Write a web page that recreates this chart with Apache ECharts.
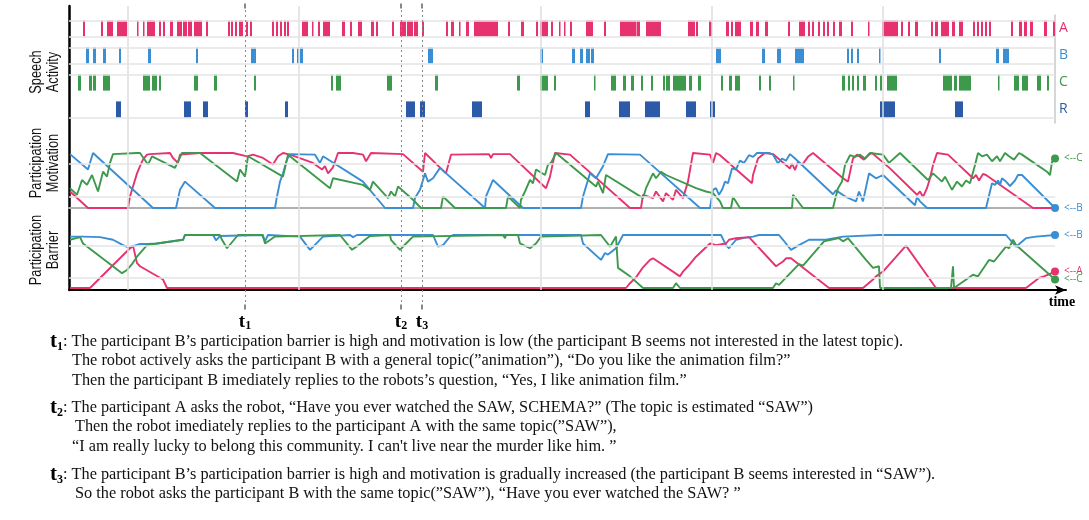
<!DOCTYPE html>
<html><head><meta charset="utf-8">
<script src="https://cdn.jsdelivr.net/npm/echarts@6/dist/echarts.min.js"></script>
<style>html,body{margin:0;padding:0;background:#fff}#c{width:1089px;height:520px}</style>
</head><body><div id="c"></div>
<script>
// ---- data (time units along the session, 0..986) ----
const timeMax = 986;
const speechRows = ['R', 'C', 'B', 'A'];
const speechA = [[14,16],[32,34],[38,44],[48,58],[68,69.5],[74,75.5],[78,86],[90,92],[94,96],[101,104],[108,113],[114,118],[119,123],[125,133],[137,139],[159,161],[162,164],[166,168],[170,174],[177,179],[181,183],[203,205],[207,209],[211,213],[215,217],[218,220],[233,239],[243,244],[249,251],[254,261],[273,276],[281,283],[289,293],[302,305],[307,309],[323,325],[331,337],[338,344],[345,349],[353,355],[377,379],[382,385],[390,391],[397,400],[405,429],[439,441],[452,455],[467,469],[471,479],[482,484],[490,491],[495,496],[501,503],[517,524],[535,537],[551,567],[567.5,571],[577,592],[619,626],[627,629],[640,643],[657,660],[662,664],[666,672],[681,684],[687,690],[696,699],[719,721],[730,736],[739,741],[743,745],[749,751],[754,756],[758,760],[764,766],[770,773],[782,784],[799,800],[813,829],[832,834],[839,841],[846,849],[862,864],[866,869],[872,880],[883,886],[890,894],[904,906],[908,910],[912,914],[916,918],[920,922],[942,944],[950,953],[955,958],[961,964],[975,978],[984,986]];
const speechB = [[17,20],[24,27],[34,37],[50,52],[79,82],[127,129],[182,187],[223,225],[228,230],[231,234],[359,364],[471,474],[503,506],[511,514],[517,521],[522,525],[647,652],[693,696],[708,712],[726,735],[778,780],[782,784],[788,790],[810,811],[870,872],[927,930],[934,940]];
const speechC = [[9,12],[20,23],[24,27],[34,41],[74,81],[83,88],[90,92],[125,129],[145,148],[185,187],[262,264],[267,272],[318,323],[366,369],[448,451],[471,479],[485,487],[525,526],[542,547],[554,557],[562,565],[572,574],[582,584],[594,596],[597,601],[604,617],[620,623],[629,632],[652,654],[660,663],[666,671],[690,692],[700,702],[724,725],[773,776],[779,781],[783,785],[788,790],[794,797],[806,808],[811,813],[818,828],[874,883],[885,888],[890,902],[929,930],[945,950],[953,959],[968,972],[978,980]];
const speechR = [[47,52],[115,122],[134,139],[176,179],[216,219],[337,346],[351,356],[403,413],[516,521],[550,561],[576,591],[617,627],[641,646],[811,826],[886,894]];

const motivA = [[1,.30],[19,0],[59,0],[61,.21],[64,.39],[68,.63],[71,.76],[74,.88],[78,.97],[81,.98],[101,1],[104,.91],[109,.82],[111,.97],[131,1],[164,1],[178,.94],[184,.97],[194,.91],[204,.79],[209,.94],[214,1],[221,.97],[244,.82],[253,.70],[256,.76],[259,.63],[264,.74],[269,1],[284,1],[294,.97],[297,.85],[302,1],[334,.98],[354,.66],[356,1],[377,.63],[382,.97],[420,.98],[422,.91],[424,.98],[441,.98],[477,.36],[481,.57],[486,1],[501,.97],[561,0],[572,0],[574,.24],[584,.18],[587,.30],[594,.12],[597,.27],[604,.15],[607,.33],[614,.18],[619,.48],[624,1],[641,.97],[644,.82],[647,1],[651,.96],[683,.45],[684,.6],[689,.9],[693,.96],[696,1],[704,.98],[721,.72],[723,.81],[726,.69],[729,.84],[733,.78],[739,.93],[744,1],[774,.54],[779,.48],[784,.9],[788,.97],[795,.88],[800,.97],[803,1],[821,.72],[848,.24],[851,.3],[854,.2],[858,.36],[861,.54],[864,.78],[868,1],[879,.97],[904,.54],[907,.6],[910,.5],[914,.62],[917,.6],[964,0],[986,0]];
const motivB = [[1,.98],[19,.70],[24,1],[84,0],[107,0],[111,.33],[116,.48],[146,0],[206,0],[208,.21],[211,.48],[214,.63],[218,.88],[221,.98],[246,.97],[251,.82],[254,.94],[294,.48],[316,0],[344,0],[346,.18],[351,.33],[356,.63],[359,.48],[364,.54],[371,.73],[372,.73],[416,0],[417,.21],[424,.51],[454,0],[512,0],[514,.21],[521,.63],[527,.54],[534,.76],[539,.98],[571,.97],[631,0],[641,0],[644,.33],[647,.36],[650,.24],[653,.33],[656,.48],[659,.45],[663,.72],[667,.7],[671,.86],[675,.82],[680,.96],[684,.93],[688,1],[700,1],[704,.97],[709,.81],[713,.9],[717,.86],[721,.98],[726,.9],[764,.25],[767,.32],[777,.2],[787,.12],[790,.3],[794,.12],[800,.63],[807,.54],[814,.6],[846,.05],[848,.2],[851,.12],[858,0],[917,0],[919,.15],[923,.45],[926,.42],[929,.5],[931,.42],[933,.54],[937,.48],[941,.4],[946,.5],[949,.6],[953,.6],[986,0]];
const motivC = [[1,.36],[8,.24],[13,.51],[18,.42],[23,.60],[29,.30],[34,.66],[38,.57],[41,.82],[44,.98],[68,1],[71,1],[79,.79],[83,.94],[106,.73],[113,1],[131,1],[168,.48],[171,.70],[176,.57],[179,.94],[214,.57],[219,.97],[261,.36],[264,.54],[294,.42],[301,.33],[304,.48],[319,.18],[322,.30],[326,.21],[329,.39],[344,.15],[352,0],[372,0],[374,.21],[386,0],[437,0],[439,.21],[451,0],[452,.15],[456,.30],[461,.51],[464,.45],[467,.70],[476,.60],[479,.79],[482,.82],[487,1],[527,.39],[529,.48],[534,.27],[537,.60],[574,.18],[577,.36],[584,.63],[587,.54],[592,.66],[597,.6],[627,.36],[637,.30],[644,.27],[651,.12],[654,0],[662,0],[664,.2],[671,0],[723,0],[724,.24],[734,0],[764,0],[766,.15],[769,.36],[773,.48],[776,.78],[781,.96],[786,.93],[791,.97],[796,.9],[801,1],[814,.97],[820,.82],[831,1],[859,.51],[864,.63],[873,.48],[876,.57],[883,.33],[888,.48],[893,.39],[897,.5],[901,.45],[906,.78],[909,1],[913,.94],[918,.97],[923,.85],[928,.94],[931,.85],[936,1],[940,.94],[945,.88],[950,1],[953,.97],[961,.87],[978,.66],[981,.6],[983,.84],[986,.9]];

const barrierA = [[1,0],[21,0],[61,.75],[64,.8],[68,.47],[71,.41],[94,.16],[98,0],[557,0],[561,.09],[567,.2],[574,.39],[581,.53],[584,.56],[611,.22],[614,.31],[619,.41],[627,.59],[641,.84],[647,.81],[657,.84],[660,.91],[667,.94],[680,.96],[707,.41],[714,.5],[717,.56],[722,.56],[760,0],[794,0],[804,.16],[807,.22],[814,.31],[837,.8],[867,0],[957,0],[970,.19],[975,.22],[986,.31]];
const barrierB = [[1,.97],[14,.97],[31,.96],[44,.91],[54,.81],[61,.75],[64,.79],[71,.83],[78,.83],[88,.84],[114,.91],[116,1],[144,1],[147,.9],[151,.98],[193,1],[196,.88],[199,1],[231,.97],[241,.72],[254,.97],[281,1],[284,.96],[288,1],[364,1],[369,.78],[374,.81],[381,.97],[384,1],[512,1],[514,.84],[532,.53],[536,.66],[539,.63],[547,.75],[554,1],[652,1],[657,.81],[660,.75],[667,.91],[674,.94],[684,.97],[690,1],[710,1],[714,.91],[722,.72],[730,.81],[740,.91],[757,.91],[774,.97],[810,1],[937,1],[947,.78],[957,.94],[967,.97],[986,1]];
const barrierC = [[1,.91],[11,.96],[14,.84],[53,.28],[58,.34],[63,.45],[68,.59],[73,.7],[78,.81],[88,.84],[114,.91],[116,1],[151,1],[153,.91],[158,.75],[169,1],[194,1],[196,.84],[206,.97],[208,1],[271,1],[283,.72],[289,.8],[294,.88],[301,.98],[321,1],[322,.91],[331,.72],[337,.84],[344,.97],[346,1],[434,1],[436,.94],[437,1],[449,1],[451,.84],[461,.75],[467,.84],[472,.97],[474,1],[532,1],[541,.78],[547,.97],[549,.38],[561,.22],[574,0],[604,0],[607,.09],[611,0],[704,0],[707,.09],[710,.06],[730,.45],[734,.42],[755,.88],[770,.94],[774,.88],[779,.94],[797,.53],[804,.38],[810,.41],[811,0],[882,0],[884,.41],[885,0],[887,0],[904,.25],[909,.22],[920,.53],[925,.5],[937,.78],[940,.75],[944,.91],[947,.81],[986,.16]];

const gridTimes = [58.5, 229.5, 472, 643, 814];
const eventTimes = [176, 332, 353];
const eventLabels = ['1', '2', '3'];

// ---- styling ----
const PINK = '#e6336f', BLUE = '#3a8ed3', GREEN = '#3d994b', NAVY = '#2a5aa8';
const serif = '"Liberation Serif", "Times New Roman", serif';
const sans = '"Liberation Sans", Arial, sans-serif';

function speechSeries(rows, name, color) {
  const rowIndex = speechRows.indexOf(name);
  return {
    type: 'custom', xAxisIndex: 0, yAxisIndex: 0, z: 3, silent: true,
    data: rows.map(d => [d[0], d[1], rowIndex]),
    encode: { x: [0, 1], y: 2 },
    renderItem: function (params, api) {
      const p0 = api.coord([api.value(0), api.value(2) + 0.8]);
      const p1 = api.coord([api.value(1), api.value(2) + 0.2]);
      return { type: 'rect', shape: { x: p0[0], y: p0[1], width: Math.max(p1[0] - p0[0], 1.5), height: p1[1] - p0[1] }, style: { fill: color } };
    }
  };
}

function lineSeries(data, color, xi, yi, label, extra) {
  const s = {
    type: 'line', xAxisIndex: xi, yAxisIndex: yi, data: data, showSymbol: false, clip: false,
    z: 4, silent: true, lineStyle: { color: color, width: 1.9 }, itemStyle: { color: color }
  };
  if (label) {
    s.endLabel = { show: true, formatter: label, color: color, fontSize: 10, fontFamily: 'Open Sans', distance: 9 };
    s.markPoint = { symbol: 'circle', symbolSize: 8, silent: true, label: { show: false }, itemStyle: { color: color },
      data: [{ coord: data[data.length - 1] }] };
  }
  return Object.assign(s, extra || {});
}

const hGrid = (vals) => ({ silent: true, symbol: 'none', label: { show: false },
  lineStyle: { color: '#e4e4e4', type: 'solid', width: 1.5 }, data: vals.map(v => ({ yAxis: v })) });

const option = {
  animation: false,
  grid: [
    { left: 69, top: 15, width: 986, height: 108 },
    { left: 69, top: 153, width: 986, height: 55 },
    { left: 69, top: 235, width: 986, height: 53 },
    { left: 69, top: 6, width: 997, height: 284 },
    { left: 69, top: 6, width: 986, height: 301 }
  ],
  xAxis: [
    { gridIndex: 0, type: 'value', min: 0, max: timeMax, show: false },
    { gridIndex: 1, type: 'value', min: 0, max: timeMax, show: true, axisLine: { lineStyle: { color: '#b0b0b0', width: 2 } }, axisTick: { show: false }, axisLabel: { show: false }, splitLine: { show: false } },
    { gridIndex: 2, type: 'value', min: 0, max: timeMax, show: false },
    { gridIndex: 3, type: 'value', min: 0, max: 997, axisLine: { lineStyle: { color: '#000', width: 2 }, symbol: ['none', 'arrow'], symbolSize: [7, 11] }, axisTick: { show: false }, axisLabel: { show: false }, splitLine: { show: false } },
    { gridIndex: 4, type: 'value', min: 0, max: timeMax, show: false }
  ],
  yAxis: [
    { gridIndex: 0, type: 'value', min: 0, max: 4, show: false },
    { gridIndex: 0, type: 'value', min: 0, max: 4, interval: 0.5, position: 'right',
      axisLine: { show: true, lineStyle: { color: '#c8c8c8', width: 1.5 } }, axisTick: { show: false }, splitLine: { show: false },
      axisLabel: { margin: 4, fontSize: 14, fontFamily: 'Open Sans',
        formatter: function (v) { const i = Math.floor(v); return (v - i === 0.5) ? '{' + speechRows[i] + '|' + speechRows[i] + '}' : ''; },
        rich: { A: { color: PINK, fontSize: 14 }, B: { color: BLUE, fontSize: 14 }, C: { color: GREEN, fontSize: 14 }, R: { color: NAVY, fontSize: 14 } } } },
    { gridIndex: 1, type: 'value', min: 0, max: 1, show: false },
    { gridIndex: 2, type: 'value', min: 0, max: 1, show: false },
    { gridIndex: 3, type: 'value', min: 0, max: 1, axisLine: { show: true, lineStyle: { color: '#000', width: 2.5 } }, axisTick: { show: false }, axisLabel: { show: false }, splitLine: { show: false } },
    { gridIndex: 4, type: 'value', min: 0, max: 1, show: false }
  ],
  series: [
    { type: 'line', xAxisIndex: 3, yAxisIndex: 4, data: [], z: 1, silent: true,
      markLine: { silent: true, symbol: 'none', label: { show: false }, lineStyle: { color: '#dedede', type: 'solid', width: 1.5 },
        data: gridTimes.map(t => ({ xAxis: t })) } },
    { type: 'line', xAxisIndex: 0, yAxisIndex: 0, data: [], z: 1, silent: true,
      markLine: hGrid([3.8, 3.2, 2.8, 2.2, 1.8, 0.2]) },
    { type: 'line', xAxisIndex: 4, yAxisIndex: 5, data: [], z: 6, silent: true,
      markLine: { silent: true, symbol: ['rect', 'rect'], symbolSize: [2, 5],
        lineStyle: { color: '#888', type: [2, 3], width: 1 }, itemStyle: { color: '#000' },
        label: { show: true, position: 'start', distance: 6,
          formatter: p => '{t|t}{s|' + p.name + '}',
          rich: { t: { fontFamily: serif, fontWeight: 'bold', fontSize: 19, color: '#000' },
                  s: { fontFamily: serif, fontWeight: 'bold', fontSize: 12, color: '#000', verticalAlign: 'bottom', padding: [6, 0, 0, 0] } } },
        data: eventTimes.map((t, i) => ({ xAxis: t, name: eventLabels[i] })) } },
    speechSeries(speechA, 'A', PINK),
    speechSeries(speechB, 'B', BLUE),
    speechSeries(speechC, 'C', GREEN),
    speechSeries(speechR, 'R', NAVY),
    lineSeries(motivA, PINK, 1, 2, null, { markLine: hGrid([0.2, 0.8]) }),
    lineSeries(motivB, BLUE, 1, 2, '<--B'),
    lineSeries(motivC, GREEN, 1, 2, '<--C'),
    lineSeries(barrierB, BLUE, 2, 3, '<--B', { markLine: hGrid([0.2, 0.8]) }),
    lineSeries(barrierA, PINK, 2, 3, '<--A'),
    lineSeries(barrierC, GREEN, 2, 3, '<--C')
  ],
  graphic: [
    { type: 'text', x: 45, y: 72, rotation: Math.PI / 2, scaleX: 0.8, silent: true,
      style: { text: 'Speech\nActivity', font: '16px ' + sans, fill: '#111', align: 'center', verticalAlign: 'middle', lineHeight: 17 } },
    { type: 'text', x: 45, y: 163, rotation: Math.PI / 2, scaleX: 0.8, silent: true,
      style: { text: 'Participation\nMotivation', font: '16px ' + sans, fill: '#111', align: 'center', verticalAlign: 'middle', lineHeight: 17 } },
    { type: 'text', x: 45, y: 250, rotation: Math.PI / 2, scaleX: 0.8, silent: true,
      style: { text: 'Participation\nBarrier', font: '16px ' + sans, fill: '#111', align: 'center', verticalAlign: 'middle', lineHeight: 17 } },
    { type: 'text', x: 1062, y: 302, silent: true,
      style: { text: 'time', font: 'bold 14px ' + serif, fill: '#000', align: 'center', verticalAlign: 'middle' } }
  ]
};

const notes = [
  { x: 50, y: 342, tag: '1', text: ': The participant B’s participation barrier is high and motivation is low (the participant B seems not interested in the latest topic).' },
  { x: 72, y: 361, text: 'The robot actively asks the participant B with a general topic(”animation”), “Do you like the animation film?”' },
  { x: 72, y: 381, text: 'Then the participant B imediately replies to the robots’s question, “Yes, I like animation film.”' },
  { x: 50, y: 408, tag: '2', text: ': The participant A asks the robot, “Have you ever watched the SAW, SCHEMA?” (The topic is estimated “SAW”)' },
  { x: 75, y: 427, text: 'Then the robot imediately replies to the participant A with the same topic(”SAW”),' },
  { x: 72, y: 447, text: '“I am really lucky to belong this community. I can\'t live near the murder like him. ”' },
  { x: 50, y: 475, tag: '3', text: ': The participant B’s participation barrier is high and motivation is gradually increased (the participant B seems interested in “SAW”).' },
  { x: 75, y: 494, text: 'So the robot asks the participant B with the same topic(”SAW”), “Have you ever watched the SAW? ”' }
];
notes.forEach(n => {
  option.graphic.push({ type: 'text', x: n.x, y: n.y, silent: true,
    style: { text: (n.tag ? '{t|t}{s|' + n.tag + '}' : '') + '{n|' + n.text + '}', align: 'left', verticalAlign: 'middle',
      rich: { t: { fontFamily: serif, fontWeight: 'bold', fontSize: 21, fill: '#000' },
              s: { fontFamily: serif, fontWeight: 'bold', fontSize: 12, fill: '#000', verticalAlign: 'bottom', padding: [7, 0, 0, 0] },
              n: { fontFamily: serif, fontSize: 16.3, fill: '#111' } } } });
});

const chart = echarts.init(document.getElementById('c'), null, { renderer: 'canvas' });
chart.setOption(option);
</script></body></html>
